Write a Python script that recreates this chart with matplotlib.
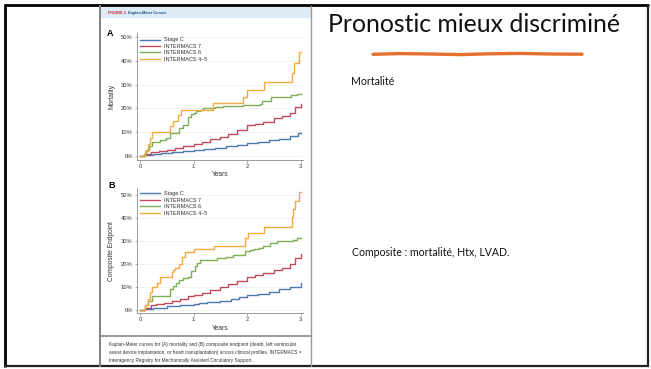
import matplotlib
matplotlib.use("Agg")
import matplotlib.pyplot as plt
from matplotlib.patches import Rectangle
from matplotlib.lines import Line2D

W, H = 651, 369

# ---- Kaplan-Meier data (cumulative incidence, %) ----
years_ticks = [0, 1, 2, 3]
pct_ticks = [0, 10, 20, 30, 40, 50]
pct_labels = ["0%", "10%", "20%", "30%", "40%", "50%"]
series_names = ["Stage C", "INTERMACS 7", "INTERMACS 6", "INTERMACS 4\u20135"]
series_colors = ["#4a7ab0", "#c24a5c", "#7fae57", "#f6a940"]

# Panel A: mortality
stage_c_a_t = [0, 0.1, 0.25, 0.4, 0.6, 0.8, 1.0, 1.2, 1.4, 1.6, 1.8, 2.0, 2.2, 2.4, 2.6, 2.8, 2.95, 3.0]
stage_c_a_v = [0, 0.5, 1.0, 1.3, 1.7, 2.1, 2.5, 3.0, 3.5, 4.0, 4.5, 5.3, 6.0, 6.5, 7.3, 8.3, 9.5, 9.8]
im7_a_t = [0, 0.1, 0.2, 0.35, 0.5, 0.65, 0.8, 1.0, 1.15, 1.3, 1.5, 1.65, 1.8, 2.0, 2.15, 2.3, 2.5, 2.65, 2.8, 2.9, 3.0]
im7_a_v = [0, 0.8, 1.6, 2.0, 2.6, 3.5, 4.2, 5.0, 6.0, 7.0, 8.0, 9.3, 11.0, 13.0, 13.5, 14.3, 15.8, 16.8, 18.0, 20.5, 22.0]
im6_a_t = [0, 0.08, 0.12, 0.16, 0.22, 0.38, 0.48, 0.56, 0.72, 0.8, 0.9, 0.95, 1.0, 1.05, 1.12, 1.18, 1.4, 1.55, 1.93, 2.24, 2.28, 2.45, 2.82, 2.92, 3.0]
im6_a_v = [0, 1.0, 2.5, 4.0, 6.0, 6.5, 7.5, 9.5, 11.7, 13.0, 16.5, 17.5, 18.0, 19.0, 19.5, 20.0, 20.5, 21.0, 21.5, 22.0, 23.2, 24.6, 25.5, 26.0, 26.0]
im45_a_t = [0, 0.1, 0.155, 0.19, 0.22, 0.56, 0.62, 0.7, 0.77, 1.37, 1.93, 1.99, 2.31, 2.83, 2.87, 2.96, 3.0]
im45_a_v = [0, 2.0, 5.0, 7.5, 10.0, 12.4, 14.9, 17.4, 19.5, 22.2, 25.0, 27.8, 31.0, 35.0, 39.0, 43.7, 43.7]

# Panel B: composite endpoint
stage_c_b_t = [0, 0.1, 0.25, 0.5, 0.75, 1.0, 1.1, 1.25, 1.5, 1.7, 1.85, 2.0, 2.2, 2.4, 2.6, 2.8, 3.0]
stage_c_b_v = [0, 0.5, 1.0, 1.8, 2.0, 2.5, 3.2, 3.5, 3.9, 4.8, 5.6, 6.5, 7.2, 8.0, 9.0, 10.2, 11.6]
im7_b_t = [0, 0.1, 0.2, 0.3, 0.45, 0.6, 0.75, 0.9, 1.0, 1.15, 1.3, 1.5, 1.65, 1.8, 2.0, 2.15, 2.3, 2.5, 2.65, 2.8, 2.9, 3.0]
im7_b_v = [0, 1.0, 2.0, 2.5, 3.0, 4.0, 5.0, 6.0, 6.5, 7.5, 8.7, 10.1, 11.5, 12.7, 14.5, 15.3, 16.2, 17.4, 18.5, 20.0, 22.5, 24.6]
im6_b_t = [0, 0.09, 0.155, 0.22, 0.56, 0.62, 0.68, 0.72, 0.8, 0.9, 0.96, 1.02, 1.06, 1.12, 1.43, 1.6, 1.74, 1.96, 2.05, 2.12, 2.22, 2.3, 2.42, 2.55, 2.86, 2.92, 3.0]
im6_b_v = [0, 2.0, 4.0, 6.0, 9.0, 10.5, 12.0, 13.0, 14.0, 14.5, 17.0, 19.0, 20.5, 22.0, 22.5, 23.0, 24.0, 25.5, 26.0, 26.5, 27.0, 28.0, 29.0, 30.0, 30.5, 31.5, 31.5]
im45_b_t = [0, 0.09, 0.155, 0.19, 0.22, 0.31, 0.37, 0.59, 0.62, 0.66, 0.72, 0.78, 0.84, 1.0, 1.38, 1.96, 2.02, 2.31, 2.83, 2.86, 2.89, 2.97, 3.0]
im45_b_v = [0, 2.0, 5.0, 8.0, 10.0, 12.0, 14.5, 16.5, 17.5, 18.5, 20.0, 23.0, 25.4, 26.8, 28.0, 31.2, 33.6, 36.2, 40.6, 43.8, 47.5, 51.4, 51.4]

panel_a = [(stage_c_a_t, stage_c_a_v), (im7_a_t, im7_a_v), (im6_a_t, im6_a_v), (im45_a_t, im45_a_v)]
panel_b = [(stage_c_b_t, stage_c_b_v), (im7_b_t, im7_b_v), (im6_b_t, im6_b_v), (im45_b_t, im45_b_v)]

SANS = "Liberation Sans"
SLIDE = "Lato"

fig = plt.figure(figsize=(W / 100, H / 100), dpi=100)
fig.patch.set_facecolor("white")

# background layer in pixel coordinates
bg = fig.add_axes([0, 0, 1, 1], zorder=0)
bg.set_xlim(0, W)
bg.set_ylim(H, 0)
bg.axis("off")

# slide frame
bg.add_line(Line2D([4, 649], [5, 5], color="black", lw=2.0, solid_capstyle="butt"))
bg.add_line(Line2D([5, 5], [4, 367], color="black", lw=2.0, solid_capstyle="butt"))
bg.add_line(Line2D([4, 649], [366, 366], color="#222222", lw=1.6, solid_capstyle="butt"))
bg.add_line(Line2D([648, 648], [4, 367], color="#222222", lw=1.6, solid_capstyle="butt"))

# embedded article figure frame
bg.add_patch(Rectangle((100, 6.5), 211, 11.5, facecolor="#ddebf6", edgecolor="none"))
bg.add_line(Line2D([100, 100], [6, 366], color="#808080", lw=1.4))
bg.add_line(Line2D([311, 311], [6, 366], color="#9a9a9a", lw=1.0))
bg.add_line(Line2D([100, 311], [335.7, 335.7], color="#8a8a8a", lw=1.2))
bg.text(108, 12.6, "FIGURE 2", color="#c8202f", fontsize=2.8, fontweight="bold",
        family=SANS, va="center", ha="left")
bg.text(128, 12.6, "Kaplan-Meier Curves", color="#1d4f8a", fontsize=2.8, fontweight="bold",
        family=SANS, va="center", ha="left")
bg.text(110.5, 33, "A", fontsize=6.5, fontweight="bold", family=SANS, va="center", ha="center")
bg.text(111.5, 185, "B", fontsize=6.5, fontweight="bold", family=SANS, va="center", ha="center")

caption = ["Kaplan-Meier curves for (A) mortality and (B) composite endpoint (death, left ventricular",
           "assist device implantation, or heart transplantation) across clinical profiles. INTERMACS =",
           "Interagency Registry for Mechanically Assisted Circulatory Support."]
for i, line in enumerate(caption):
    bg.text(109.3, 344.3 + i * 8.2, line, fontsize=3.45, family=SANS, color="#333333",
            va="center", ha="left")

# slide text
bg.text(474.5, 25, "Pronostic mieux discriminé", fontsize=17.8, family=SLIDE, color="#111111",
        va="center", ha="center")
wx = [373, 400, 430, 460, 490, 520, 550, 582]
wy = [54.3, 53.6, 54.0, 54.6, 53.8, 53.4, 54.0, 54.2]
bg.plot(wx, wy, color="#e8702f", lw=2.4, solid_capstyle="round")
bg.text(351, 81.7, "Mortalité", fontsize=7.6, family=SLIDE, color="#111111", va="center", ha="left")
bg.text(352, 252.7, "Composite : mortalité, Htx, LVAD.", fontsize=7.6, family=SLIDE,
        color="#111111", va="center", ha="left")


def px_axes(x0, y0, x1, y1):
    return fig.add_axes([x0 / W, 1 - y1 / H, (x1 - x0) / W, (y1 - y0) / H], zorder=2)


def km_panel(ax, data, ylim, ylabel, leg_top):
    ax.set_facecolor("none")
    for (t, v), name, col in zip(data, series_names, series_colors):
        ax.step(t, v, where="post", color=col, lw=1.0, label=name)
    ax.set_xlim(-0.056, 3.04)
    ax.set_ylim(*ylim)
    ax.set_xticks(years_ticks)
    ax.set_xticklabels([str(x) for x in years_ticks])
    ax.set_yticks(pct_ticks)
    ax.set_yticklabels(pct_labels)
    ax.grid(axis="y", color="#ededed", lw=0.5)
    ax.set_axisbelow(True)
    for s in ("top", "right"):
        ax.spines[s].set_visible(False)
    for s in ("left", "bottom"):
        ax.spines[s].set_color("#8c8c8c")
        ax.spines[s].set_linewidth(0.6)
    ax.tick_params(axis="both", length=1.8, width=0.5, color="#8c8c8c", pad=1.2,
                   labelsize=4.2, labelcolor="#333333")
    for lab in ax.get_xticklabels() + ax.get_yticklabels():
        lab.set_family(SANS)
    ax.set_xlabel("Years", fontsize=4.8, family=SANS, color="#333333", labelpad=1.5)
    ax.set_ylabel(ylabel, fontsize=4.8, family=SANS, color="#333333", labelpad=4)
    leg = ax.legend(loc="upper left", bbox_to_anchor=(0.018, leg_top), frameon=False,
                    prop={"family": SANS, "size": 4.0}, handlelength=3.6,
                    handletextpad=0.7, labelspacing=0.26, borderpad=0, borderaxespad=0)
    for txt in leg.get_texts():
        txt.set_color("#333333")


ax_a = px_axes(137, 33, 303, 160)
km_panel(ax_a, panel_a, (-1.7, 51.7), "Mortality", 0.965)

ax_b = px_axes(137, 188.3, 303, 313.3)
km_panel(ax_b, panel_b, (-1.4, 53.0), "Composite Endpoint", 0.975)

fig.savefig("out.png", dpi=100, facecolor="white")
